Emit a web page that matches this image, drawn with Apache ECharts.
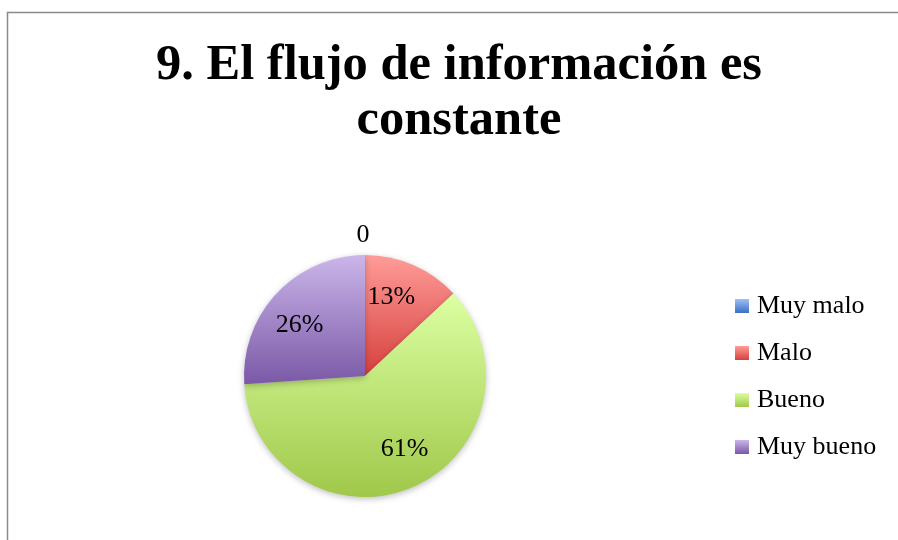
<!DOCTYPE html>
<html>
<head>
<meta charset="utf-8">
<script src="https://cdn.jsdelivr.net/npm/echarts@6/dist/echarts.min.js"></script>
<style>
  html, body { margin: 0; padding: 0; background: #fff; }
  #main { width: 898px; height: 540px; }
</style>
</head>
<body>
<div id="main"></div>
<script>
// datos del grafico
var categories = ['Muy malo', 'Malo', 'Bueno', 'Muy bueno'];
var values = [0, 3, 14, 6];
var topColors = ['#9cc0f7', '#ff9c98', '#dcffa2', '#cbb6ea'];
var bottomColors = ['#3a6fc2', '#d6403d', '#a0c84a', '#7a58a6'];

var FONT = '"Liberation Serif", "DejaVu Serif", serif';
var CX = 365, CY = 376, R = 121;
var total = values.reduce(function (a, b) { return a + b; }, 0);

function grad(i) {
  return new echarts.graphic.LinearGradient(0, 0, 0, 1, [
    { offset: 0, color: topColors[i] },
    { offset: 1, color: bottomColors[i] }
  ]);
}

var pieData = categories.map(function (name, i) {
  return { name: name, value: values[i], itemStyle: { color: grad(i) } };
});

var chart = echarts.init(document.getElementById('main'), null, { renderer: 'canvas' });

var option = {
  backgroundColor: '#fff',
  animation: false,
  title: {
    text: '9. El flujo de información es\nconstante',
    left: 454,
    textAlign: 'center',
    top: 33,
    textStyle: {
      fontFamily: FONT,
      fontWeight: 'bold',
      fontSize: 50.5,
      lineHeight: 55,
      color: '#000'
    }
  },
  legend: {
    orient: 'vertical',
    left: 735,
    top: 293,
    padding: 0,
    itemWidth: 14,
    itemHeight: 14,
    itemGap: 21,
    icon: 'rect',
    textStyle: { fontFamily: FONT, fontSize: 26, color: '#000', padding: [0, 0, 0, 3] },
    data: categories
  },
  graphic: [{
    type: 'polyline',
    shape: { points: [[7.5, 540], [7.5, 12.5], [898, 12.5]] },
    style: { stroke: '#8a8a8a', lineWidth: 1.5, fill: null },
    silent: true
  }],
  series: [
    {
      // pastel principal
      type: 'pie',
      center: [CX, CY],
      radius: R,
      startAngle: 90,
      clockwise: true,
      minAngle: 0,
      avoidLabelOverlap: false,
      stillShowZeroSum: true,
      itemStyle: {
        borderWidth: 0,
        shadowBlur: 6,
        shadowOffsetY: 2,
        shadowColor: 'rgba(0,0,0,0.25)'
      },
      label: {
        show: true,
        position: 'outside',
        fontFamily: FONT,
        fontSize: 26,
        color: '#000',
        formatter: function (p) { return p.value === 0 ? '0' : ''; }
      },
      labelLine: { show: false, length: 0, length2: 0 },
      // etiqueta del valor cero centrada encima del pastel
      labelLayout: function (p) {
        if (values[p.dataIndex] !== 0) return {};
        return { x: CX - 2, y: CY - R - 20, align: 'center', verticalAlign: 'middle' };
      },
      data: pieData
    },
    {
      // etiquetas de porcentaje (anillo invisible)
      type: 'pie',
      center: [CX, CY],
      radius: [40, 120],
      startAngle: 95,
      clockwise: true,
      silent: true,
      itemStyle: { color: 'rgba(0,0,0,0)', borderWidth: 0 },
      label: {
        show: true,
        position: 'inside',
        fontFamily: FONT,
        fontSize: 26,
        color: '#000',
        formatter: function (p) {
          return p.value === 0 ? '' : Math.round(p.value / total * 100) + '%';
        }
      },
      labelLine: { show: false },
      data: categories.map(function (name, i) { return { name: name, value: values[i] }; })
    }
  ]
};

chart.setOption(option);
</script>
</body>
</html>
